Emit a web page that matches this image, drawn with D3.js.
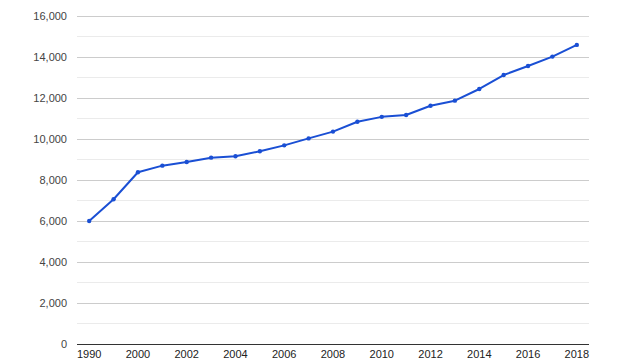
<!DOCTYPE html>
<html><head><meta charset="utf-8">
<script src="https://cdn.jsdelivr.net/npm/d3@7/dist/d3.min.js"></script>
<style>html,body{margin:0;padding:0;background:#fff;}svg{display:block;font-family:"Liberation Sans",Arial,sans-serif;}</style>
</head><body>
<svg id="c" width="640" height="360"></svg>
<script>
const years = ["1990","1995","2000","2001","2002","2003","2004","2005","2006","2007","2008","2009","2010","2011","2012","2013","2014","2015","2016","2017","2018"];
const values = [6000,7060,8380,8700,8880,9090,9160,9400,9690,10030,10360,10840,11080,11170,11620,11870,12440,13120,13560,14020,14590];
const yTicks = [0,2000,4000,6000,8000,10000,12000,14000,16000];
const yMinor = [1000,3000,5000,7000,9000,11000,13000,15000];

(function(){
const svg = d3.select("#c");
const pLeft = 77, pRight = 589, pTop = 16, pBottom = 344;
const x = d3.scalePoint().domain(years).range([pLeft, pRight]).padding(0.5);
const y = d3.scaleLinear().domain([0,16000]).range([pBottom, pTop]);
const fmt = d3.format(",");

svg.append("g").selectAll("line").data(yMinor).join("line")
  .attr("x1",pLeft).attr("x2",pRight).attr("y1",d=>y(d)).attr("y2",d=>y(d))
  .attr("stroke","#ebebeb").attr("stroke-width",1).attr("shape-rendering","crispEdges");
svg.append("g").selectAll("line").data(yTicks.filter(d=>d>0)).join("line")
  .attr("x1",pLeft).attr("x2",pRight).attr("y1",d=>y(d)).attr("y2",d=>y(d))
  .attr("stroke","#cccccc").attr("stroke-width",1).attr("shape-rendering","crispEdges");
svg.append("line").attr("x1",pLeft).attr("x2",pRight).attr("y1",y(0)).attr("y2",y(0))
  .attr("stroke","#333").attr("stroke-width",1).attr("shape-rendering","crispEdges");

svg.append("g").selectAll("text").data(yTicks).join("text")
  .attr("x",67).attr("y",d=>y(d)+4).attr("text-anchor","end")
  .attr("font-size",11).attr("fill","#444").text(d=>fmt(d));

svg.append("g").selectAll("text").data(years.filter((d,i)=>i%2===0)).join("text")
  .attr("x",d=>x(d)).attr("y",358).attr("text-anchor","middle")
  .attr("font-size",11).attr("fill","#222").text(d=>d);

const line = d3.line().x((d,i)=>x(years[i])).y(d=>y(d));
svg.append("path").datum(values).attr("d",line).attr("fill","none")
  .attr("stroke","#1a4fd4").attr("stroke-width",2).attr("stroke-linejoin","round");
svg.append("g").selectAll("circle").data(values).join("circle")
  .attr("cx",(d,i)=>x(years[i])).attr("cy",d=>y(d)).attr("r",2.2).attr("fill","#1a4fd4");
})();
</script>
</body></html>
